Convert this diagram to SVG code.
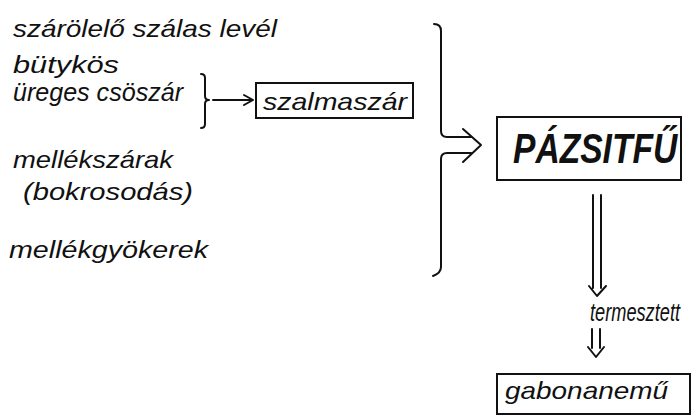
<svg xmlns="http://www.w3.org/2000/svg" width="696" height="418" viewBox="0 0 696 418">
<style>
text{font-family:"Liberation Sans",Arial,sans-serif;font-style:italic;fill:#111;}
.t{font-size:24px;}
.big{font-size:42px;font-weight:bold;}
.ln{fill:none;stroke:#111;stroke-width:2;stroke-linecap:round;stroke-linejoin:round;}
.box{fill:#fff;stroke:#111;stroke-width:2;}
</style>
<rect width="696" height="418" fill="#fff"/>
<g id="labels">
<text class="t" x="13" y="37" textLength="264" lengthAdjust="spacingAndGlyphs">szárölelő szálas levél</text>
<text class="t" x="13" y="73" textLength="106" lengthAdjust="spacingAndGlyphs">bütykös</text>
<text class="t" x="13" y="101" textLength="170" lengthAdjust="spacingAndGlyphs" style="font-size:25px">üreges csöszár</text>
<text class="t" x="13" y="168" textLength="160" lengthAdjust="spacingAndGlyphs">mellékszárak</text>
<text class="t" x="23" y="200" textLength="170" lengthAdjust="spacingAndGlyphs">(bokrosodás)</text>
<text class="t" x="9" y="258" textLength="199" lengthAdjust="spacingAndGlyphs">mellékgyökerek</text>
</g>
<g id="szalmaszar">
<rect class="box" x="256" y="83" width="157" height="35"/>
<text class="t" x="263" y="110" textLength="144" lengthAdjust="spacingAndGlyphs">szalmaszár</text>
</g>
<g id="pazsitfu">
<rect class="box" x="497" y="117" width="184" height="63"/>
<text class="big" transform="translate(513,163) scale(0.8,1)" x="0" y="0">PÁZSITFŰ</text>
</g>
<g id="termesztett">
<text class="t" transform="translate(590,321) scale(0.7,1)" x="0" y="0" style="font-size:26px">termesztett</text>
</g>
<g id="gabonanemu">
<rect class="box" x="497" y="374" width="193" height="40"/>
<text class="t" x="505" y="399" textLength="163" lengthAdjust="spacingAndGlyphs">gabonanemű</text>
</g>
<g id="connectors">
<path class="ln" d="M201,74 Q205,74 205,78 L205,96 Q205,100 209,100 Q205,100 205,104 L205,124 Q205,128 201,128"/>
<path class="ln" d="M213,100 L252,100 M244,95 L253,100 L244,105"/>
<path class="ln" d="M434,24 Q441,24 441,31 L441,131 Q441,137 447,137 L471,137"/>
<path class="ln" d="M471,153 L447,153 Q441,153 441,159 L441,267 Q441,273 433,276"/>
<path class="ln" d="M463,129 L481,145 L463,162"/>
<path class="ln" d="M593,195 L593,288 M601,195 L601,288 M589,286 L597,296 L606,286"/>
<path class="ln" d="M592,329 L592,348 M600,329 L600,348 M588,347 L596,357 L604,347"/>
</g>
</svg>
